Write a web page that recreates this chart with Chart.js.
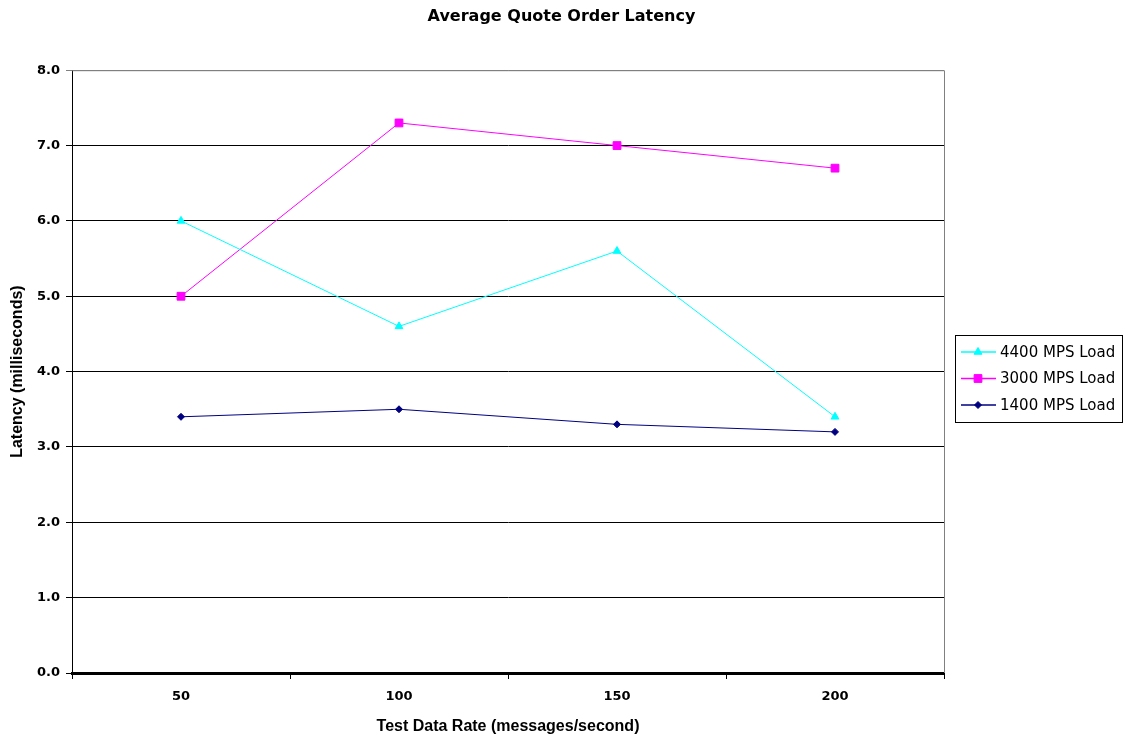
<!DOCTYPE html>
<html>
<head>
<meta charset="utf-8">
<script src="https://cdn.jsdelivr.net/npm/chart.js@4/dist/chart.umd.min.js"></script>
<style>
  html, body { margin: 0; padding: 0; background: #fff; }
  #wrap { width: 1123px; height: 740px; }
</style>
</head>
<body>
<div id="wrap"><canvas id="latencyChart" width="1123" height="740"></canvas></div>
<script>
const rates = ['50', '100', '150', '200'];
const load4400 = [6.0, 4.6, 5.6, 3.4];
const load3000 = [5.0, 7.3, 7.0, 6.7];
const load1400 = [3.4, 3.5, 3.3, 3.2];
const seriesNames = ['4400 MPS Load', '3000 MPS Load', '1400 MPS Load'];

const arial = 'Arial, "Liberation Sans", sans-serif';
const dejavu = '"DejaVu Sans", sans-serif';

// gray frame (top + right) around the plot area, like the old excel chart
const plotFrame = {
  id: 'plotFrame',
  beforeDatasetsDraw(chart) {
    const { ctx, chartArea: a } = chart;
    ctx.save();
    ctx.strokeStyle = '#808080';
    ctx.lineWidth = 1;
    ctx.beginPath();
    ctx.moveTo(a.left, a.top + 0.5);
    ctx.lineTo(a.right + 0.5, a.top + 0.5);
    ctx.lineTo(a.right + 0.5, a.bottom);
    ctx.stroke();
    ctx.restore();
  }
};

// legend box on the right with line + marker samples
const boxLegend = {
  id: 'boxLegend',
  afterDraw(chart) {
    const ctx = chart.ctx;
    const x = 955, y = 335, w = 167, h = 87;
    ctx.save();
    ctx.fillStyle = '#fff';
    ctx.fillRect(x, y, w, h);
    ctx.strokeStyle = '#000';
    ctx.lineWidth = 1;
    ctx.strokeRect(x + 0.5, y + 0.5, w, h);
    ctx.font = '15px ' + dejavu;
    ctx.textBaseline = 'middle';
    chart.data.datasets.forEach((ds, i) => {
      const cy = y + 17 + i * 26.5;
      ctx.strokeStyle = ds.borderColor;
      ctx.lineWidth = 1.5;
      ctx.beginPath();
      ctx.moveTo(x + 6, cy);
      ctx.lineTo(x + 41, cy);
      ctx.stroke();
      ctx.fillStyle = ds.pointBackgroundColor;
      ctx.strokeStyle = ds.pointBackgroundColor;
      ctx.lineWidth = 1;
      Chart.helpers.drawPoint(ctx, {
        pointStyle: ds.pointStyle,
        radius: ds.pointRadius,
        borderWidth: 1
      }, x + 23, cy);
      ctx.fillStyle = '#000';
      ctx.fillText(seriesNames[i], x + 45, cy + 1);
    });
    ctx.restore();
  }
};

const ctx = document.getElementById('latencyChart').getContext('2d');
const chart = new Chart(ctx, {
  type: 'line',
  data: {
    labels: rates,
    datasets: [
      {
        label: seriesNames[0],
        data: load4400,
        borderColor: '#00FFFF',
        backgroundColor: '#00FFFF',
        pointBackgroundColor: '#00FFFF',
        pointBorderColor: '#00FFFF',
        pointStyle: 'triangle',
        pointRadius: 4.5,
        borderWidth: 1
      },
      {
        label: seriesNames[1],
        data: load3000,
        borderColor: '#FF00FF',
        backgroundColor: '#FF00FF',
        pointBackgroundColor: '#FF00FF',
        pointBorderColor: '#FF00FF',
        pointStyle: 'rect',
        pointRadius: 5.5,
        borderWidth: 1
      },
      {
        label: seriesNames[2],
        data: load1400,
        borderColor: '#000080',
        backgroundColor: '#000080',
        pointBackgroundColor: '#000080',
        pointBorderColor: '#000080',
        pointStyle: 'rectRot',
        pointRadius: 3.5,
        borderWidth: 1
      }
    ]
  },
  options: {
    responsive: false,
    animation: false,
    plugins: {
      legend: { display: false },
      tooltip: { enabled: false },
      title: {
        display: true,
        text: 'Average Quote Order Latency',
        color: '#000',
        font: { family: dejavu, size: 16, weight: 'bold' },
        padding: { top: 7, bottom: 44 }
      }
    },
    scales: {
      x: {
        offset: true,
        grid: {
          offset: true,
          drawOnChartArea: false,
          drawTicks: true,
          tickLength: 6,
          color: '#000',
          lineWidth: 1
        },
        border: { color: '#000', width: 3 },
        ticks: {
          color: '#000',
          padding: 10,
          font: { family: dejavu, size: 13, weight: 'bold' }
        },
        title: {
          display: true,
          text: 'Test Data Rate (messages/second)',
          color: '#000',
          font: { family: arial, size: 16, weight: 'bold' },
          padding: { top: 0, bottom: 4 }
        },
        afterFit(scale) { scale.height = 67; }
      },
      y: {
        min: 0,
        max: 8,
        grid: {
          color: (c) => (c.tick && c.tick.value === 8 ? '#808080' : '#000'),
          lineWidth: 1,
          tickLength: 6
        },
        border: { color: '#000', width: 1 },
        ticks: {
          stepSize: 1,
          color: '#000',
          padding: 6,
          font: { family: dejavu, size: 13, weight: 'bold' },
          callback: (v) => v.toFixed(1)
        },
        title: {
          display: true,
          text: 'Latency (milliseconds)',
          color: '#000',
          font: { family: arial, size: 16, weight: 'bold' },
          padding: { top: 8, bottom: 0 }
        },
        afterFit(scale) { scale.width = 72; }
      },
      // empty right-hand axis that only reserves room for the legend box
      spacer: {
        type: 'linear',
        position: 'right',
        grid: { display: false },
        border: { display: false },
        ticks: { display: false },
        afterFit(scale) { scale.width = 179; }
      }
    }
  },
  plugins: [plotFrame, boxLegend]
});
</script>
</body>
</html>
